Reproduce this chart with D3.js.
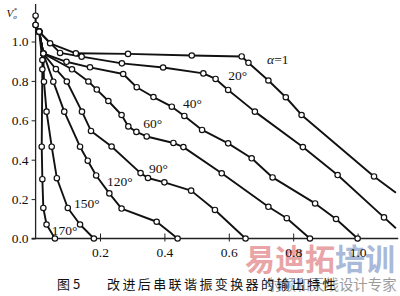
<!DOCTYPE html>
<html>
<head>
<meta charset="utf-8">
<script src="https://cdn.jsdelivr.net/npm/d3@7"></script>
<style>
  html, body { margin: 0; padding: 0; background: #fff; }
  svg { display: block; }
</style>
</head>
<body>
<div id="graph"></div>
<script>
// output curves, [I/I0, Vo*]
var alpha1 = [[0.0,1.131],[0.0,1.084],[0.011,1.050],[0.045,0.991],[0.125,0.940],[0.287,0.937],
  [0.485,0.929],[0.640,0.924],[0.661,0.892],[0.723,0.802],[0.777,0.717],[0.826,0.627],
  [1.051,0.315],[1.119,0.232]];
var deg20 = [[0.0,1.084],[0.011,1.050],[0.076,0.942],[0.143,0.923],[0.268,0.889],[0.396,0.868],
  [0.521,0.838],[0.559,0.810],[0.598,0.754],[0.681,0.644],[0.830,0.464],[0.938,0.322],
  [1.082,0.107],[1.119,0.052]];
var deg40 = [[0.011,1.050],[0.024,0.939],[0.096,0.897],[0.169,0.869],[0.272,0.835],[0.314,0.768],
  [0.366,0.718],[0.423,0.669],[0.462,0.622],[0.517,0.551],[0.598,0.483],[0.671,0.407],
  [0.736,0.310],[0.868,0.178],[0.933,0.099],[1.0,0.0]];
var deg60 = [[0.011,1.050],[0.024,0.939],[0.113,0.859],[0.164,0.797],[0.190,0.756],[0.226,0.698],
  [0.267,0.627],[0.288,0.569],[0.313,0.541],[0.345,0.518],[0.428,0.485],[0.459,0.464],
  [0.578,0.331],[0.723,0.161],[0.780,0.103],[0.852,0.0]];
var deg90 = [[0.011,1.050],[0.024,0.939],[0.063,0.860],[0.097,0.797],[0.144,0.644],[0.172,0.546],
  [0.236,0.467],[0.326,0.332],[0.349,0.307],[0.400,0.285],[0.483,0.243],[0.557,0.145],[0.652,0.0]];
var deg120 = [[0.011,1.050],[0.024,0.939],[0.055,0.796],[0.089,0.644],[0.138,0.466],[0.162,0.395],
  [0.188,0.320],[0.229,0.229],[0.267,0.152],[0.376,0.085],[0.441,0.0]];
var deg150 = [[0.011,1.050],[0.024,0.939],[0.026,0.796],[0.034,0.644],[0.050,0.466],[0.066,0.306],
  [0.100,0.155],[0.138,0.071],[0.181,0.0]];
var deg170 = [[0.011,1.050],[0.021,0.906],[0.021,0.859],[0.019,0.466],[0.021,0.301],[0.024,0.155],
  [0.034,0.071],[0.060,0.0]];

var curves = [alpha1, deg20, deg40, deg60, deg90, deg120, deg150, deg170];
var curveNames = ["=1", "20°", "40°", "60°", "90°", "120°", "150°", "170°"];
// where each curve's label sits, in data units
var labelAt = [[0.719,0.886],[0.598,0.805],[0.458,0.662],[0.334,0.561],[0.352,0.332],
  [0.222,0.264],[0.119,0.155],[0.050,0.018]];

var xTicks = [0.2, 0.4, 0.6, 0.8, 1.0];
var yTicks = [0.0, 0.2, 0.4, 0.6, 0.8, 1.0];
var xMax = 1.12, yMax = 1.18;

var caption = "改进后串联谐振变换器的输出特性";

var svg = d3.select("#graph")
  .append("svg")
    .attr("width", 400)
    .attr("height", 296);

var x = d3.scaleLinear().domain([0, xMax]).range([35.6, 35.6 + 322 * xMax]);
var y = d3.scaleLinear().domain([0, yMax]).range([238.5, 238.5 - 197 * yMax]);

// watermark sits under everything
var wm = svg.append("text")
  .attr("x", 245).attr("y", 270)
  .style("font-family", "'Noto Sans CJK SC'")
  .style("font-size", "30px")
  .style("font-weight", "bold");
wm.append("tspan").attr("fill", "#e8a4a6").text("易迪拓");
wm.append("tspan").attr("fill", "#a9b9d9").text("培训");

svg.append("text")
  .attr("x", 267).attr("y", 289.5)
  .attr("fill", "#9c9c9c")
  .style("font-family", "'Noto Sans CJK SC'")
  .style("font-size", "14.4px")
  .text("射频和天线设计专家");

// axes
var serif = "'Liberation Serif', 'DejaVu Serif', serif";

var xAxisG = svg.append("g")
  .attr("transform", `translate(0, ${y(0)})`)
  .call(d3.axisBottom(x).tickValues(xTicks).tickFormat(d3.format(".1f")).tickSizeOuter(0));
xAxisG.select(".domain").attr("stroke", "#222").attr("stroke-width", 1.3)
  .attr("d", `M${x(0) - 4},0H${x(xMax) + 2}`);
xAxisG.selectAll(".tick line").attr("y1", -5).attr("y2", 3).attr("stroke", "#222");
xAxisG.selectAll(".tick text")
  .attr("y", 18.5).attr("dy", 0)
  .attr("fill", "#111")
  .style("font-family", serif)
  .style("font-size", "13.5px");

var yAxisG = svg.append("g")
  .attr("transform", `translate(${x(0)}, 0)`)
  .call(d3.axisLeft(y).tickValues(yTicks).tickFormat(d3.format(".1f"))
    .tickSize(4).tickPadding(3).tickSizeOuter(0));
yAxisG.select(".domain").attr("stroke", "#222").attr("stroke-width", 1.3)
  .attr("d", `M0,${y(0)}V4`);
yAxisG.selectAll(".tick line").attr("stroke", "#222");
yAxisG.selectAll(".tick text")
  .attr("fill", "#111")
  .style("font-family", serif)
  .style("font-size", "13.5px");

// Vo* axis title
var vt = svg.append("text")
  .attr("x", 6.5).attr("y", 16.5)
  .attr("fill", "#111")
  .style("font-family", serif)
  .style("font-style", "italic")
  .style("font-size", "11px");
vt.append("tspan").text("V");
vt.append("tspan").attr("dy", 2).style("font-size", "7px").text("o");
vt.append("tspan").attr("dx", -3).attr("dy", -7).style("font-size", "7px").style("font-style", "normal").text("*");

// curves
var line = d3.line()
  .x(d => x(d[0]))
  .y(d => y(d[1]));

svg.selectAll(".curve")
  .data(curves)
  .enter()
  .append("path")
    .attr("class", "curve")
    .attr("d", d => line(d))
    .attr("fill", "none")
    .attr("stroke", "#111")
    .attr("stroke-width", 1.9)
    .attr("stroke-linejoin", "round");

// measured points (the last point of the two long curves is just the frame edge)
var pts = curves.flatMap(c => c.filter(p => p[0] < xMax - 0.01));
svg.selectAll(".pt")
  .data(pts)
  .enter()
  .append("circle")
    .attr("class", "pt")
    .attr("cx", d => x(d[0]))
    .attr("cy", d => y(d[1]))
    .attr("r", 2.7)
    .attr("fill", "#fff")
    .attr("stroke", "#111")
    .attr("stroke-width", 1.2);

// curve labels
var lab = svg.selectAll(".lab")
  .data(curveNames)
  .enter()
  .append("text")
    .attr("class", "lab")
    .attr("x", (d, i) => x(labelAt[i][0]))
    .attr("y", (d, i) => y(labelAt[i][1]))
    .attr("fill", "#111")
    .style("font-family", serif)
    .style("font-size", "13.5px");
lab.filter((d, i) => i === 0).append("tspan").style("font-style", "italic").text("α");
lab.append("tspan").text(d => d);

// figure caption
svg.append("text")
  .attr("x", 57).attr("y", 289)
  .attr("fill", "#111")
  .style("font-family", "'Noto Sans CJK SC'")
  .style("font-size", "13px")
  .text("图 5");
svg.append("text")
  .attr("x", 107).attr("y", 289)
  .attr("fill", "#111")
  .style("font-family", "'Noto Sans CJK SC'")
  .style("font-size", "13px")
  .style("letter-spacing", "2.4px")
  .text(caption);
</script>
</body>
</html>
